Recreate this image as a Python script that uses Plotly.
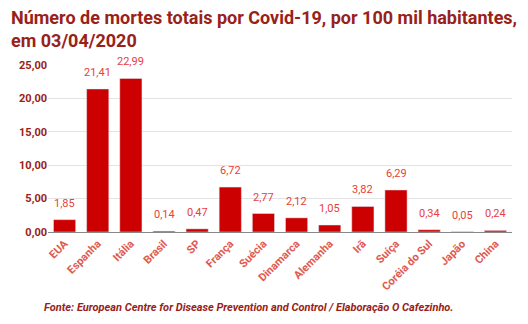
import plotly.graph_objects as go

categories = ["EUA", "Espanha", "Itália", "Brasil", "SP", "França", "Suécia",
              "Dinamarca", "Alemanha", "Irã", "Suíça", "Coréia do Sul", "Japão", "China"]
values = [1.85, 21.41, 22.99, 0.14, 0.47, 6.72, 2.77, 2.12, 1.05, 3.82, 6.29, 0.34, 0.05, 0.24]
labels = [f"{v:.2f}".replace(".", ",") for v in values]
y_ticks = [0, 5, 10, 15, 20, 25]

fig = go.Figure(go.Bar(
    x=categories, y=values,
    marker=dict(color="#cc0000"), cliponaxis=False,
))
value_annotations = [
    dict(x=c, y=v, text=t, xref="x", yref="y", showarrow=False, yanchor="bottom",
         yshift=8, font=dict(family="Roboto", size=11, color="#e8403a"))
    for c, v, t in zip(categories, values, labels)
]
fig.update_layout(
    width=528, height=324, separators=",.",
    paper_bgcolor="white", plot_bgcolor="white",
    margin=dict(l=48, r=16, t=65, b=92),
    bargap=0.33, showlegend=False,
    annotations=value_annotations + [
        dict(text="<b>Número de mortes totais por Covid-19, por 100 mil habitantes,<br>em 03/04/2020</b>",
             xref="paper", yref="paper", x=-0.083, y=1.36, xanchor="left", yanchor="top",
             align="left", showarrow=False,
             font=dict(family="Roboto", size=18, color="#992218")),
        dict(text="<b><i>Fonte: European Centre for Disease Prevention and Control / Elaboração O Cafezinho.</i></b>",
             xref="paper", yref="paper", x=-0.013, y=-0.455, xanchor="left", yanchor="middle",
             showarrow=False,
             font=dict(family="Roboto", size=11, color="#992218"))],
)
fig.update_yaxes(range=[0, 25], tickvals=y_ticks, tickformat=".2f",
                 gridcolor="#e3e3e3", gridwidth=1, zeroline=False,
                 tickfont=dict(family="Roboto", size=11, color="#992218", weight="bold"),
                 ticks="", showline=False)
fig.update_xaxes(tickangle=-45, showline=True, linecolor="#888888", linewidth=1,
                 tickfont=dict(family="Roboto", size=11, color="#e05a50", weight="bold"))
fig.write_html("out.html")
